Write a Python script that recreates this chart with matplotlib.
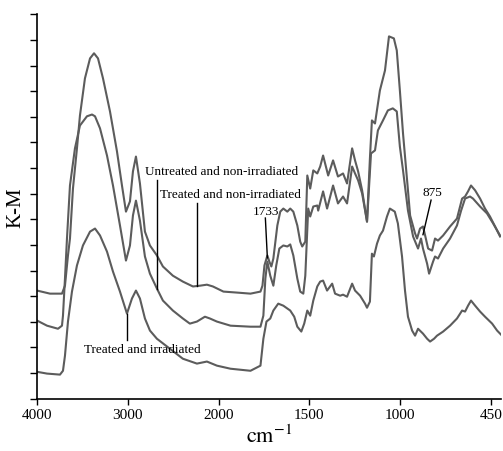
# DRIFT spectra (Kubelka-Munk) of the three samples
# plotted on the usual FTIR axis with a scale change at 2000 cm-1

import numpy as np
import matplotlib
matplotlib.use("Agg")
import matplotlib.pyplot as plt

# wavenumbers (cm-1) and K-M values (arbitrary units, 1 tick = 1)
wn_treated = [4000, 3857, 3725, 3692, 3659, 3637, 3604, 3560, 3527, 3472, 3416, 3372,
              3328, 3273, 3196, 3119, 3064, 3020, 2976, 2943, 2910, 2866, 2811, 2756,
              2679, 2613, 2503, 2393, 2282, 2205, 2128, 2062, 1973, 1896, 1824, 1769,
              1758, 1747, 1731, 1720, 1709, 1698, 1676, 1660, 1643, 1621, 1605, 1588,
              1566, 1550, 1539, 1522, 1511, 1495, 1478, 1456, 1440, 1424, 1396, 1369,
              1342, 1314, 1292, 1264, 1248, 1231, 1209, 1182, 1166, 1155, 1138, 1111,
              1083, 1061, 1034, 1018, 1001, 982, 952, 939, 909, 897, 879, 861,
              848, 830, 806, 788, 770, 739, 697, 655, 624, 606, 588, 570,
              545, 515, 485, 455, 424, 394]
km_treated = [4.22, 4.10, 4.10, 4.41, 5.59, 6.25, 8.20, 9.77, 11.05, 12.50, 13.28, 13.48,
              13.28, 12.50, 11.21, 9.65, 8.32, 7.30, 7.70, 8.87, 9.45, 8.40, 6.52, 5.98,
              5.59, 5.16, 4.80, 4.57, 4.38, 4.41, 4.45, 4.38, 4.18, 4.14, 4.10, 4.18,
              4.41, 5.20, 5.59, 5.35, 5.16, 5.47, 6.76, 7.30, 7.42, 7.30, 7.42, 7.30,
              6.76, 6.13, 5.94, 6.13, 8.71, 8.20, 8.91, 8.79, 9.06, 9.49, 8.71, 9.30,
              8.67, 8.79, 8.40, 9.77, 9.30, 8.87, 8.13, 6.91, 9.38, 10.86, 10.74, 12.03,
              12.81, 14.14, 14.06, 13.59, 12.03, 10.35, 8.13, 7.15, 6.45, 6.25, 6.64, 6.72,
              6.37, 5.86, 5.78, 6.25, 6.17, 6.37, 6.72, 7.03, 7.81, 7.89, 8.09, 8.32,
              8.13, 7.81, 7.42, 7.11, 6.72, 6.33]

wn_untreated = [4000, 3890, 3769, 3725, 3714, 3692, 3670, 3637, 3582, 3527, 3450, 3394,
                3361, 3306, 3229, 3163, 3086, 3020, 2976, 2943, 2910, 2866, 2811, 2756,
                2679, 2613, 2503, 2393, 2316, 2238, 2150, 2095, 2018, 1934, 1824, 1769,
                1753, 1742, 1731, 1715, 1698, 1682, 1665, 1643, 1621, 1605, 1588, 1566,
                1550, 1533, 1522, 1506, 1495, 1478, 1456, 1451, 1424, 1402, 1369, 1342,
                1314, 1292, 1264, 1248, 1231, 1209, 1182, 1160, 1138, 1122, 1094, 1067,
                1040, 1018, 1001, 982, 952, 921, 891, 873, 861, 836, 824, 800,
                788, 770, 739, 697, 655, 630, 606, 576, 558, 515, 473, 436, 394]
km_untreated = [3.05, 2.85, 2.73, 2.85, 3.24, 4.69, 6.25, 8.32, 9.77, 10.66, 11.02, 11.09,
                11.02, 10.55, 9.49, 8.32, 6.76, 5.39, 5.98, 7.15, 7.73, 6.95, 5.55, 4.88,
                4.30, 3.83, 3.44, 3.13, 2.93, 3.01, 3.20, 3.13, 3.01, 2.85, 2.81, 2.81,
                3.24, 4.69, 5.35, 4.80, 4.41, 5.20, 5.86, 5.98, 5.94, 6.02, 5.59, 4.69,
                4.18, 4.10, 4.80, 7.42, 7.11, 7.50, 7.54, 7.34, 8.09, 7.42, 8.32, 7.62,
                7.89, 7.62, 9.06, 8.79, 8.52, 8.01, 6.91, 9.57, 9.69, 10.47, 10.86, 11.25,
                11.33, 11.21, 9.84, 8.91, 7.34, 6.33, 5.86, 6.25, 5.86, 5.27, 4.88, 5.35,
                5.55, 5.47, 5.86, 6.25, 6.76, 7.34, 7.81, 7.89, 7.81, 7.50, 7.23, 6.84, 6.37]

wn_irradiated = [4000, 3890, 3747, 3714, 3692, 3659, 3615, 3560, 3494, 3416, 3361, 3306,
                 3229, 3163, 3086, 3009, 2954, 2910, 2866, 2811, 2756, 2679, 2536, 2393,
                 2238, 2128, 2018, 1934, 1824, 1769, 1753, 1736, 1715, 1698, 1671, 1643,
                 1605, 1583, 1566, 1544, 1528, 1511, 1495, 1478, 1456, 1440, 1424, 1402,
                 1374, 1358, 1330, 1314, 1292, 1264, 1248, 1220, 1193, 1182, 1166, 1155,
                 1144, 1127, 1111, 1094, 1072, 1056, 1029, 1012, 988, 970, 952, 927,
                 909, 891, 861, 836, 818, 794, 776, 739, 697, 655, 624, 606,
                 588, 570, 545, 515, 485, 442, 412, 382]
km_irradiated = [1.05, 0.98, 0.94, 1.09, 1.68, 3.01, 4.18, 5.20, 5.98, 6.52, 6.64, 6.37,
                 5.74, 4.96, 4.18, 3.32, 3.91, 4.22, 3.91, 3.13, 2.66, 2.34, 1.95, 1.56,
                 1.37, 1.45, 1.29, 1.17, 1.09, 1.29, 2.34, 3.01, 3.13, 3.44, 3.71, 3.63,
                 3.44, 3.20, 2.81, 2.62, 2.93, 3.44, 3.24, 3.83, 4.38, 4.57, 4.61, 4.22,
                 4.49, 4.10, 4.02, 4.06, 3.98, 4.49, 4.22, 4.02, 3.71, 3.55, 3.79, 5.66,
                 5.55, 6.05, 6.37, 6.56, 7.11, 7.42, 7.30, 6.84, 5.55, 4.22, 3.20, 2.66,
                 2.46, 2.73, 2.54, 2.34, 2.23, 2.34, 2.46, 2.62, 2.85, 3.13, 3.44, 3.40,
                 3.63, 3.83, 3.63, 3.40, 3.20, 2.93, 2.66, 2.46]

xticks = [4000, 3000, 2000, 1500, 1000, 450]

# piecewise axis: 1000 cm-1 per unit above 2000, 500 per unit below, 550 for the last one
knots_wn = [-5000, 1000, 2000, 10000]
knots_u = [-9.909, 1, 3, 11]


def forward(w):
    return np.interp(w, knots_wn, knots_u)


def inverse(u):
    return np.interp(u, knots_u, knots_wn)


def main():
    plt.rcParams["font.family"] = ["Liberation Serif", "DejaVu Serif"]
    plt.rcParams["mathtext.fontset"] = "stix"

    fig = plt.figure(figsize=(5.03, 4.52), dpi=100)
    ax = fig.add_axes([0.0736, 0.1157, 0.9225, 0.8504])
    ax.set_xscale("function", functions=(forward, inverse))

    line_color = "#5c5c5c"
    for wn, km in [(wn_treated, km_treated), (wn_untreated, km_untreated),
                   (wn_irradiated, km_irradiated)]:
        ax.plot(wn, km, color=line_color, lw=1.5, solid_joinstyle="round")

    ax.set_xlim(4000, 388)
    ax.set_ylim(0, 15)
    ax.set_xticks(xticks, [str(t) for t in xticks])
    ax.set_yticks(range(0, 16), [""] * 16)
    ax.tick_params(axis="x", direction="out", length=4, width=1, labelsize=11, pad=3)
    ax.tick_params(axis="y", direction="out", length=5, width=1)
    ax.spines["top"].set_visible(False)
    ax.spines["right"].set_visible(False)
    ax.spines["left"].set_linewidth(1.2)
    ax.spines["bottom"].set_linewidth(1.2)

    ax.set_ylabel("K-M", fontsize=15, labelpad=0)
    ax.set_xlabel(r"$\mathrm{cm}^{-1}$", fontsize=16, labelpad=2)

    # labels with pointer lines
    fs = 9.5
    ax.text(1984, 8.87, "Untreated and non-irradiated", fontsize=fs, ha="center", va="center")
    ax.plot([2679, 2679], [8.55, 4.30], color="black", lw=1)
    ax.text(1934, 7.97, "Treated and non-irradiated", fontsize=fs, ha="center", va="center")
    ax.plot([2238, 2238], [7.62, 4.41], color="black", lw=1)
    ax.text(1739, 7.34, "1733", fontsize=fs, ha="center", va="center")
    ax.plot([1742, 1731], [7.05, 5.5], color="black", lw=1)
    ax.text(806, 8.05, "875", fontsize=fs, ha="center", va="center")
    ax.plot([812, 861], [7.75, 6.4], color="black", lw=1)
    ax.text(2844, 1.95, "Treated and irradiated", fontsize=fs, ha="center", va="center")
    ax.plot([3009, 3009], [2.3, 3.32], color="black", lw=1)

    fig.savefig("out.png", dpi=100)


if __name__ == "__main__":
    main()
